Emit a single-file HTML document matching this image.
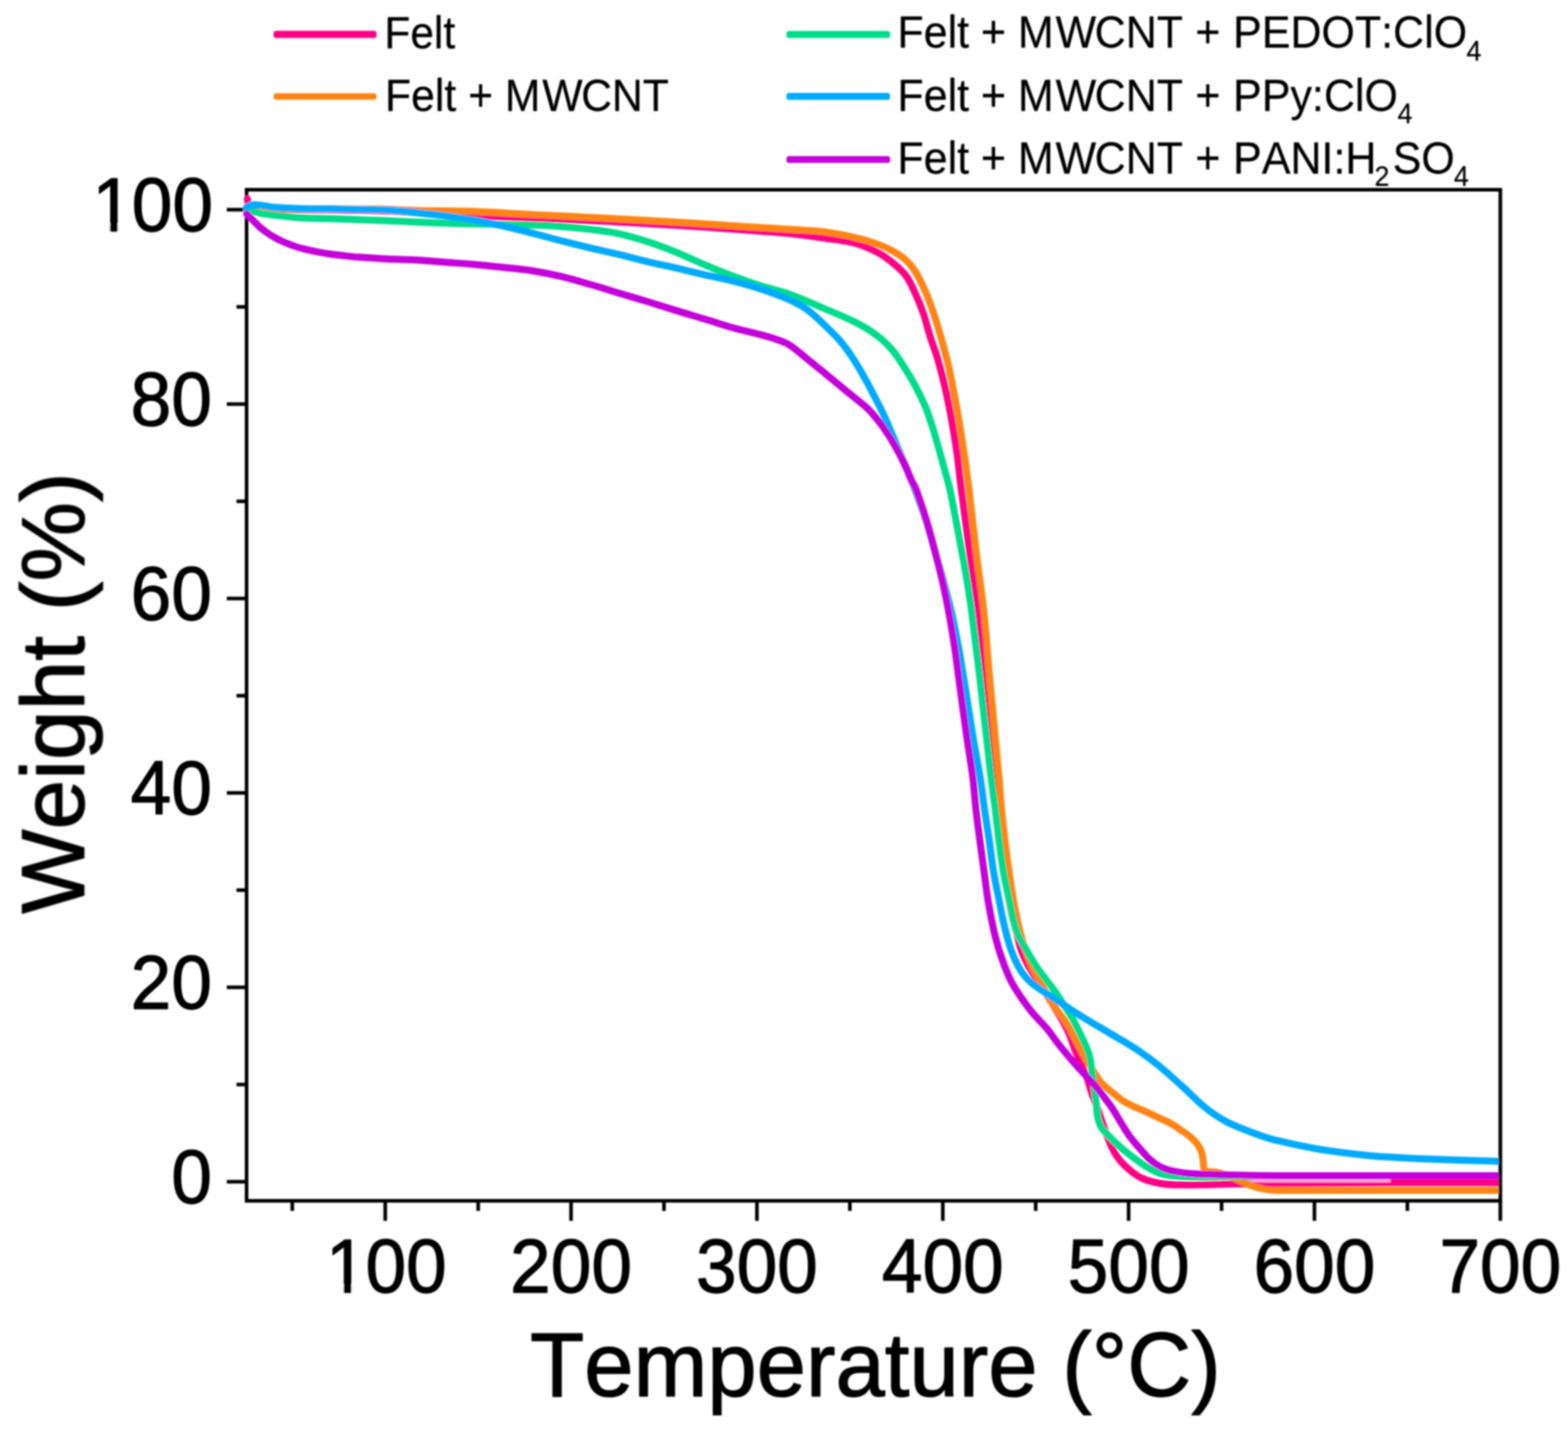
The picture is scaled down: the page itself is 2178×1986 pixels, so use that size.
<!DOCTYPE html>
<html lang="en"><head><meta charset="utf-8"><title>TGA: Weight (%) vs Temperature (°C)</title>
<style>html,body{margin:0;padding:0;background:#fff}body{width:2178px;height:1986px;overflow:hidden}svg{display:block}text{font-family:"Liberation Sans",Arial,sans-serif;font-kerning:none}</style>
</head><body>
<svg xmlns="http://www.w3.org/2000/svg" width="2178" height="1986" viewBox="0 0 2178 1986">
<defs><clipPath id="plotclip"><rect x="336.5" y="263.5" width="1745.1" height="1404.2"/></clipPath></defs>
<rect width="2178" height="1986" fill="#fff"/>
<filter id="soft" x="0" y="0" width="2178" height="1986" filterUnits="userSpaceOnUse"><feGaussianBlur stdDeviation="0.8"/></filter>
<g filter="url(#soft)">
<g stroke="#000" stroke-width="5" fill="none" stroke-linecap="butt">
<rect x="342.5" y="263.5" width="1741.5" height="1404.2"/>
<line x1="406.0" y1="1667.7" x2="406.0" y2="1681.7"/>
<line x1="535.1" y1="1667.7" x2="535.1" y2="1695.5"/>
<line x1="664.2" y1="1667.7" x2="664.2" y2="1681.7"/>
<line x1="793.2" y1="1667.7" x2="793.2" y2="1695.5"/>
<line x1="922.3" y1="1667.7" x2="922.3" y2="1681.7"/>
<line x1="1051.4" y1="1667.7" x2="1051.4" y2="1695.5"/>
<line x1="1180.5" y1="1667.7" x2="1180.5" y2="1681.7"/>
<line x1="1309.6" y1="1667.7" x2="1309.6" y2="1695.5"/>
<line x1="1438.6" y1="1667.7" x2="1438.6" y2="1681.7"/>
<line x1="1567.7" y1="1667.7" x2="1567.7" y2="1695.5"/>
<line x1="1696.8" y1="1667.7" x2="1696.8" y2="1681.7"/>
<line x1="1825.8" y1="1667.7" x2="1825.8" y2="1695.5"/>
<line x1="1954.9" y1="1667.7" x2="1954.9" y2="1681.7"/>
<line x1="2084.0" y1="1667.7" x2="2084.0" y2="1695.5"/>
<line x1="342.5" y1="1641.2" x2="315.0" y2="1641.2"/>
<line x1="342.5" y1="1506.2" x2="328.5" y2="1506.2"/>
<line x1="342.5" y1="1371.2" x2="315.0" y2="1371.2"/>
<line x1="342.5" y1="1236.2" x2="328.5" y2="1236.2"/>
<line x1="342.5" y1="1101.2" x2="315.0" y2="1101.2"/>
<line x1="342.5" y1="966.2" x2="328.5" y2="966.2"/>
<line x1="342.5" y1="831.2" x2="315.0" y2="831.2"/>
<line x1="342.5" y1="696.2" x2="328.5" y2="696.2"/>
<line x1="342.5" y1="561.2" x2="315.0" y2="561.2"/>
<line x1="342.5" y1="426.2" x2="328.5" y2="426.2"/>
<line x1="342.5" y1="291.2" x2="315.0" y2="291.2"/>
</g>
<g fill="none" stroke-width="9.7" stroke-linejoin="round" stroke-linecap="round" clip-path="url(#plotclip)">
<path d="M343.5,276.0C344.0,278.3 343.9,280.9 345.0,283.0C346.1,285.1 347.7,287.5 350.0,288.0C359.7,290.1 369.8,290.2 379.7,290.5C406.1,291.3 432.6,291.2 459.0,291.5C472.2,291.7 485.5,291.7 498.7,292.0C511.8,292.2 524.9,292.5 538.0,293.0C551.3,293.5 564.7,294.3 578.0,295.0C591.3,295.8 604.7,296.7 618.0,297.5C631.2,298.2 644.3,298.9 657.5,299.5C670.7,300.1 683.8,300.7 697.0,301.2C711.3,301.8 725.7,302.3 740.0,302.9C773.1,304.3 806.1,305.6 839.2,307.2C872.3,308.9 905.3,310.7 938.4,312.8C971.5,314.9 1004.5,317.3 1037.6,319.7C1058.4,321.2 1079.2,322.5 1100.0,324.6C1114.6,326.1 1129.0,328.3 1143.5,330.5C1158.0,332.7 1172.8,333.8 1187.0,337.6C1198.4,340.6 1209.3,345.5 1219.7,351.0C1227.5,355.1 1234.7,360.5 1241.5,366.2C1247.8,371.4 1254.1,376.9 1258.9,383.6C1264.4,391.3 1268.0,400.2 1271.9,408.8C1276.0,417.7 1279.6,426.7 1282.8,436.0C1286.3,446.2 1288.6,456.9 1291.9,467.2C1295.1,477.4 1299.1,487.3 1302.1,497.6C1305.9,510.6 1309.3,523.6 1312.4,536.8C1315.7,551.2 1318.6,565.7 1321.3,580.3C1324.2,596.2 1326.8,612.2 1329.1,628.2C1331.5,645.4 1333.1,662.7 1335.3,680.0C1339.0,709.0 1342.8,738.0 1346.8,767.0C1350.9,796.1 1356.2,825.0 1359.6,854.1C1363.0,883.0 1364.8,912.2 1367.3,941.2C1369.9,970.2 1372.0,999.2 1374.8,1028.2C1376.4,1045.5 1378.4,1062.8 1380.5,1080.0C1384.0,1109.0 1387.9,1138.0 1391.5,1167.0C1395.1,1196.0 1397.6,1225.2 1402.3,1254.1C1404.7,1268.8 1409.2,1283.1 1412.8,1297.6C1414.6,1304.9 1416.0,1312.3 1418.5,1319.4C1421.2,1326.9 1424.5,1334.2 1428.3,1341.2C1432.4,1348.8 1437.4,1355.7 1442.0,1363.0C1446.9,1370.7 1451.9,1378.3 1456.7,1386.0C1462.8,1395.9 1469.0,1405.8 1474.8,1415.9C1478.6,1422.6 1482.3,1429.4 1485.4,1436.5C1488.3,1443.2 1490.1,1450.3 1492.8,1457.1C1495.8,1464.6 1499.2,1471.9 1502.4,1479.4C1505.1,1485.7 1508.0,1491.9 1510.3,1498.4C1512.7,1505.2 1514.3,1512.2 1516.7,1519.0C1519.1,1526.0 1522.1,1532.8 1524.6,1539.7C1526.9,1546.0 1528.8,1552.4 1531.0,1558.7C1533.0,1564.6 1535.1,1570.4 1537.3,1576.2C1539.3,1581.5 1541.2,1586.9 1543.7,1592.1C1546.0,1597.0 1548.5,1601.8 1551.6,1606.3C1554.4,1610.3 1557.6,1614.0 1561.1,1617.5C1565.1,1621.5 1569.3,1625.2 1573.8,1628.6C1577.8,1631.6 1582.0,1634.4 1586.5,1636.5C1591.0,1638.6 1595.9,1640.0 1600.8,1641.3C1606.0,1642.7 1611.3,1643.8 1616.7,1644.4C1624.6,1645.3 1632.6,1645.6 1640.5,1645.7C1651.1,1645.9 1661.6,1645.6 1672.2,1645.4C1684.8,1645.1 1697.4,1644.5 1710.0,1644.3C1740.0,1643.8 1770.0,1643.5 1800.0,1643.3C1844.0,1643.0 1888.0,1642.8 1932.0,1642.7C1982.7,1642.6 2033.3,1642.6 2084.0,1642.6" stroke="#FF0084"/>
<path id="lightstrip" d="M1727,1639.6H1931.5" stroke="#F4A2DC" stroke-width="4.6" stroke-linecap="butt"/>
<path d="M342.5,291.5C361.7,291.2 380.8,290.7 400.0,290.5C419.7,290.2 439.3,290.0 459.0,290.0C480.8,290.0 502.7,290.0 524.5,290.4C542.3,290.7 560.2,291.9 578.0,292.3C604.5,293.0 631.0,292.8 657.5,293.7C685.0,294.7 712.5,296.6 740.0,298.0C773.1,299.7 806.1,301.2 839.2,302.9C872.3,304.6 905.3,306.4 938.4,308.4C971.5,310.4 1004.5,312.7 1037.6,314.8C1058.4,316.1 1079.2,317.3 1100.0,318.7C1114.5,319.7 1129.1,320.0 1143.5,321.8C1158.1,323.6 1172.6,326.4 1187.0,329.7C1198.1,332.2 1209.0,335.3 1219.7,339.2C1227.3,342.0 1234.5,345.5 1241.5,349.5C1247.6,353.0 1253.7,356.8 1258.9,361.7C1264.0,366.4 1268.3,372.0 1271.9,377.9C1277.0,386.2 1281.1,395.1 1285.0,404.0C1289.1,413.2 1292.6,422.7 1295.9,432.3C1299.9,443.8 1303.4,455.5 1306.7,467.2C1310.6,480.9 1314.4,494.6 1317.6,508.5C1320.9,522.9 1323.6,537.5 1326.3,552.0C1329.0,566.5 1331.5,581.0 1333.9,595.6C1336.3,610.1 1338.4,624.6 1340.5,639.1C1342.5,652.7 1344.3,666.3 1346.0,680.0C1349.5,709.0 1352.5,738.0 1356.0,767.0C1359.5,796.1 1364.0,825.0 1367.1,854.1C1370.1,883.1 1371.9,912.2 1374.6,941.2C1377.2,970.2 1380.0,999.2 1382.8,1028.2C1384.4,1045.5 1386.1,1062.7 1387.6,1080.0C1388.9,1094.5 1389.7,1109.0 1391.1,1123.5C1392.5,1138.0 1394.0,1152.5 1395.8,1167.0C1397.5,1181.6 1399.4,1196.1 1401.6,1210.6C1403.7,1225.1 1405.7,1239.7 1408.4,1254.1C1411.2,1268.7 1413.9,1283.3 1417.8,1297.6C1421.9,1312.4 1426.6,1327.0 1432.5,1341.2C1435.6,1348.9 1440.6,1355.6 1444.6,1362.9C1448.6,1370.1 1452.3,1377.6 1456.4,1384.7C1459.5,1389.9 1462.8,1395.0 1466.2,1400.0C1471.3,1407.5 1477.1,1414.5 1481.9,1422.2C1486.4,1429.3 1490.0,1437.0 1494.0,1444.4C1497.9,1451.8 1501.4,1459.4 1505.5,1466.7C1509.0,1472.7 1513.0,1478.3 1516.7,1484.1C1520.9,1490.6 1524.4,1497.7 1529.4,1503.5C1533.9,1508.8 1539.8,1512.8 1545.2,1517.2C1550.4,1521.5 1555.4,1526.1 1561.1,1529.7C1566.1,1532.9 1571.6,1535.2 1577.0,1537.7C1582.2,1540.1 1587.7,1542.1 1592.9,1544.5C1598.2,1546.8 1603.4,1549.5 1608.7,1552.0C1614.0,1554.4 1619.5,1556.4 1624.6,1559.3C1630.1,1562.3 1635.3,1566.1 1640.5,1569.7C1644.8,1572.6 1649.2,1575.3 1653.2,1578.7C1656.7,1581.6 1660.0,1584.7 1662.7,1588.3C1665.3,1591.9 1667.5,1595.8 1669.0,1600.0C1670.4,1604.1 1670.8,1608.4 1671.4,1612.7C1671.9,1615.8 1671.2,1619.2 1672.2,1622.2C1672.8,1624.0 1674.2,1625.9 1676.0,1626.5C1681.5,1628.2 1687.5,1627.2 1693.1,1628.6C1700.3,1630.4 1707.2,1633.2 1714.0,1636.0C1719.4,1638.2 1724.4,1641.3 1729.8,1643.5C1735.0,1645.7 1740.3,1647.7 1745.7,1649.2C1750.9,1650.7 1756.2,1651.9 1761.6,1652.5C1767.7,1653.2 1773.9,1653.1 1780.0,1653.1C1881.3,1653.3 1982.7,1653.1 2084.0,1653.1" stroke="#FF8419"/>
<path d="M342.5,291.0C348.3,292.6 354.1,294.5 360.0,295.7C366.5,297.0 373.1,297.9 379.7,298.7C392.9,300.3 406.1,301.9 419.4,302.7C432.6,303.5 445.8,303.3 459.0,303.7C472.2,304.1 485.5,304.7 498.7,305.2C511.9,305.7 525.2,306.1 538.4,306.6C551.6,307.1 564.9,307.8 578.1,308.4C591.3,309.0 604.6,309.6 617.8,310.0C631.0,310.4 644.3,310.7 657.5,311.0C670.7,311.3 683.9,311.5 697.1,311.8C711.4,312.1 725.7,312.1 740.0,312.6C753.2,313.0 766.5,313.6 779.7,314.6C793.0,315.6 806.2,316.9 819.4,318.5C832.6,320.1 845.9,321.7 859.0,324.4C872.4,327.3 885.6,331.1 898.7,335.3C912.1,339.6 925.3,344.6 938.4,349.9C951.8,355.3 964.8,361.7 978.1,367.4C991.3,372.9 1004.4,378.4 1017.8,383.4C1030.9,388.4 1044.2,393.0 1057.5,397.2C1070.6,401.4 1084.2,404.0 1097.1,408.7C1112.9,414.3 1128.1,421.3 1143.5,427.9C1157.8,434.0 1172.3,439.6 1186.2,446.6C1196.8,451.9 1207.2,457.7 1216.7,464.8C1224.8,470.7 1232.2,477.7 1238.7,485.2C1245.5,493.0 1250.9,501.9 1256.4,510.6C1262.3,519.9 1268.0,529.3 1273.0,539.0C1278.2,548.9 1283.1,559.0 1287.2,569.4C1291.4,580.1 1294.6,591.1 1298.0,602.1C1301.1,612.2 1303.9,622.4 1306.7,632.6C1309.3,642.0 1311.9,651.4 1314.4,660.8C1316.1,667.2 1318.1,673.5 1319.5,680.0C1322.6,694.4 1325.2,709.0 1328.0,723.5C1330.8,738.0 1333.6,752.5 1336.2,767.0C1338.9,781.5 1341.6,796.0 1343.9,810.6C1346.3,825.1 1348.3,839.6 1350.2,854.1C1352.1,868.6 1353.8,883.1 1355.6,897.6C1357.4,912.1 1359.3,926.7 1361.0,941.2C1362.7,955.7 1364.2,970.2 1365.8,984.7C1367.4,999.2 1369.1,1013.7 1370.8,1028.2C1372.8,1045.5 1374.6,1062.7 1376.7,1080.0C1378.5,1094.5 1380.6,1109.0 1382.4,1123.5C1384.2,1138.0 1385.8,1152.5 1387.7,1167.0C1389.6,1181.6 1391.3,1196.1 1393.8,1210.6C1396.3,1225.2 1399.8,1239.5 1402.8,1254.0C1404.6,1262.6 1405.9,1271.3 1408.1,1279.8C1409.8,1286.6 1412.0,1293.3 1414.7,1299.7C1417.0,1305.0 1420.2,1309.9 1423.1,1315.0C1425.8,1319.8 1428.6,1324.7 1431.5,1329.4C1434.5,1334.4 1437.5,1339.5 1440.9,1344.3C1444.4,1349.4 1448.3,1354.3 1452.0,1359.2C1455.8,1364.2 1459.8,1369.0 1463.5,1374.1C1467.0,1379.0 1470.2,1384.0 1473.5,1389.0C1476.7,1394.0 1479.8,1399.0 1483.0,1404.0C1486.0,1408.9 1489.3,1413.6 1492.0,1418.7C1497.0,1428.2 1501.6,1437.8 1506.0,1447.6C1508.8,1453.8 1511.6,1460.1 1513.3,1466.7C1515.1,1473.4 1515.7,1480.4 1516.7,1487.3C1517.9,1495.2 1518.8,1503.2 1519.8,1511.1C1520.9,1519.0 1522.0,1527.0 1523.0,1534.9C1523.6,1540.2 1523.5,1545.6 1524.6,1550.8C1525.6,1555.7 1526.9,1560.7 1529.4,1565.1C1531.8,1569.3 1535.6,1572.6 1538.9,1576.2C1543.0,1580.6 1547.2,1584.8 1551.6,1588.9C1555.7,1592.7 1559.9,1596.5 1564.3,1600.0C1568.4,1603.3 1572.7,1606.4 1577.0,1609.5C1582.2,1613.3 1587.4,1617.3 1592.9,1620.6C1598.0,1623.6 1603.2,1626.5 1608.7,1628.6C1613.8,1630.5 1619.2,1631.6 1624.6,1632.5C1629.8,1633.4 1635.2,1633.7 1640.5,1634.0C1651.1,1634.5 1661.6,1634.7 1672.2,1634.8C1682.8,1634.8 1693.4,1634.5 1704.0,1634.2C1712.0,1634.1 1720.0,1633.8 1728.0,1633.6C1731.3,1633.5 1734.7,1633.5 1738.0,1633.4" stroke="#00DC8C"/>
<path d="M342.5,288.0C345.0,286.9 347.3,285.0 350.0,284.6C354.0,284.0 358.0,284.6 362.0,285.0C367.9,285.6 373.7,287.3 379.7,287.8C392.9,288.9 406.2,289.4 419.4,289.8C432.6,290.2 445.8,290.0 459.0,290.2C472.2,290.4 485.5,290.6 498.7,290.8C511.9,291.1 525.2,291.0 538.4,291.7C551.7,292.5 564.9,294.0 578.1,295.3C591.3,296.6 604.6,298.0 617.8,299.7C631.1,301.4 644.3,303.3 657.5,305.6C670.8,307.9 684.0,310.7 697.1,313.6C711.5,316.8 725.7,320.4 740.0,324.0C753.3,327.3 766.4,331.0 779.7,334.4C792.9,337.8 806.1,341.1 819.4,344.3C832.6,347.4 845.8,350.2 859.0,353.3C872.3,356.5 885.4,360.1 898.7,363.2C911.9,366.3 925.2,369.1 938.4,372.1C951.7,375.2 964.8,378.5 978.1,381.5C991.3,384.5 1004.7,387.0 1017.8,390.3C1031.1,393.6 1044.4,397.2 1057.5,401.6C1070.9,406.0 1084.2,410.8 1097.1,416.6C1105.7,420.5 1114.1,425.0 1121.8,430.5C1129.7,436.1 1136.5,443.1 1143.5,449.7C1151.0,456.8 1158.5,463.8 1165.3,471.5C1171.6,478.7 1177.3,486.5 1182.7,494.4C1188.2,502.5 1193.1,510.9 1197.9,519.4C1203.2,528.7 1208.3,538.2 1213.2,547.7C1218.4,557.8 1223.6,567.8 1228.4,578.1C1232.7,587.4 1236.6,596.9 1240.6,606.4C1244.0,614.4 1247.3,622.4 1250.6,630.4C1254.9,640.5 1259.2,650.6 1263.4,660.8C1266.0,667.2 1268.6,673.5 1271.0,680.0C1276.3,694.4 1281.8,708.8 1286.6,723.5C1291.2,737.9 1295.1,752.5 1299.2,767.0C1303.3,781.5 1307.5,796.0 1311.4,810.6C1315.3,825.1 1319.2,839.5 1322.5,854.1C1325.8,868.5 1328.5,883.1 1331.2,897.6C1333.9,912.1 1336.2,926.7 1338.6,941.2C1341.0,955.7 1343.1,970.2 1345.4,984.7C1347.7,999.2 1349.9,1013.7 1352.3,1028.2C1355.2,1045.5 1358.7,1062.7 1361.5,1080.0C1363.8,1094.5 1365.4,1109.0 1367.5,1123.5C1369.6,1138.0 1371.9,1152.5 1374.0,1167.0C1376.1,1181.5 1377.7,1196.1 1380.1,1210.6C1382.5,1225.2 1385.7,1239.6 1388.5,1254.1C1390.2,1262.7 1391.7,1271.3 1393.6,1279.8C1395.1,1286.5 1396.7,1293.1 1398.5,1299.7C1400.3,1306.4 1402.2,1313.0 1404.5,1319.5C1406.8,1325.9 1409.3,1332.2 1412.4,1338.3C1415.3,1343.9 1418.4,1349.3 1422.3,1354.3C1425.8,1358.8 1429.9,1362.7 1434.2,1366.3C1438.8,1370.2 1444.1,1373.4 1449.1,1376.8C1454.0,1380.1 1459.0,1383.2 1464.0,1386.5C1469.0,1389.7 1473.9,1393.0 1478.9,1396.3C1485.5,1400.7 1492.0,1405.2 1498.7,1409.4C1505.2,1413.5 1512.0,1417.3 1518.6,1421.3C1525.7,1425.5 1532.9,1429.7 1540.0,1434.0C1552.3,1441.4 1565.0,1448.3 1577.0,1456.2C1587.9,1463.4 1598.5,1471.0 1608.7,1479.2C1619.7,1488.0 1630.0,1497.7 1640.5,1507.2C1651.2,1516.9 1661.3,1527.2 1672.2,1536.7C1677.2,1541.0 1682.6,1544.9 1688.1,1548.6C1693.2,1552.0 1698.5,1555.2 1704.0,1558.1C1709.1,1560.8 1714.5,1563.0 1719.8,1565.2C1725.1,1567.4 1730.4,1569.5 1735.7,1571.5C1741.0,1573.5 1746.2,1575.6 1751.6,1577.4C1757.7,1579.4 1763.7,1581.6 1770.0,1583.0C1791.7,1588.0 1813.5,1592.9 1835.5,1596.6C1857.2,1600.2 1879.1,1602.7 1901.0,1604.8C1922.7,1606.8 1944.6,1607.8 1966.4,1608.9C1988.2,1610.0 2010.1,1610.5 2031.9,1611.3C2049.3,1611.9 2066.6,1612.4 2084.0,1613.0" stroke="#00AAFF"/>
<path d="M342.5,297.0C345.0,299.5 347.5,302.0 350.0,304.5C353.3,307.8 356.3,311.4 359.8,314.5C362.9,317.3 366.4,319.8 369.8,322.3C373.0,324.6 376.3,326.8 379.7,328.8C382.9,330.7 386.2,332.4 389.6,334.0C392.8,335.6 396.2,337.0 399.5,338.3C402.8,339.6 406.1,340.9 409.4,342.0C412.7,343.1 416.0,344.2 419.4,345.0C426.0,346.7 432.6,348.2 439.2,349.5C445.8,350.8 452.4,351.9 459.0,352.9C465.6,353.8 472.3,354.5 478.9,355.2C485.5,355.9 492.1,356.7 498.7,357.2C511.9,358.2 525.2,358.9 538.4,359.6C551.6,360.3 564.9,360.4 578.1,361.2C591.3,362.0 604.6,363.2 617.8,364.2C631.0,365.2 644.3,365.9 657.5,367.1C670.7,368.3 683.9,369.7 697.1,371.1C711.4,372.7 725.8,373.9 740.0,376.1C753.3,378.2 766.6,380.9 779.7,384.0C793.1,387.2 806.2,391.1 819.4,394.9C832.6,398.7 845.8,402.8 859.0,406.8C872.2,410.8 885.5,414.7 898.7,418.7C912.0,422.7 925.1,427.0 938.4,431.0C951.6,435.1 964.9,438.9 978.1,442.9C991.4,446.9 1004.5,451.4 1017.8,455.1C1031.8,459.0 1046.0,462.0 1060.0,465.8C1066.7,467.6 1073.4,469.6 1080.0,471.8C1084.1,473.2 1088.2,474.6 1092.0,476.5C1095.2,478.1 1098.2,480.1 1101.0,482.2C1108.1,487.5 1114.9,493.3 1121.8,498.9C1129.1,504.8 1136.3,510.7 1143.5,516.6C1150.8,522.6 1158.0,528.5 1165.3,534.5C1172.5,540.4 1179.8,546.4 1187.0,552.3C1192.3,556.7 1197.8,560.8 1203.0,565.4C1205.8,567.9 1208.5,570.6 1211.0,573.5C1216.3,579.7 1221.5,585.9 1226.2,592.5C1231.9,600.5 1237.2,608.8 1242.1,617.3C1247.1,625.8 1251.7,634.5 1255.9,643.4C1259.7,651.2 1262.6,659.5 1266.2,667.4C1268.2,671.7 1270.9,675.6 1272.5,680.0C1277.8,694.3 1282.5,708.9 1287.0,723.5C1291.4,737.9 1295.2,752.5 1299.0,767.0C1302.8,781.5 1306.6,796.0 1309.9,810.6C1313.1,825.0 1315.9,839.6 1318.6,854.1C1321.2,868.6 1323.6,883.1 1325.8,897.6C1328.0,912.1 1329.7,926.7 1331.7,941.2C1333.6,955.7 1335.5,970.2 1337.5,984.7C1339.5,999.2 1341.5,1013.7 1343.6,1028.2C1346.1,1045.5 1349.1,1062.7 1351.3,1080.0C1353.1,1094.5 1353.9,1109.0 1355.5,1123.5C1357.1,1138.0 1359.1,1152.5 1361.0,1167.0C1362.9,1181.5 1364.9,1196.1 1366.9,1210.6C1368.9,1225.1 1370.5,1239.7 1373.0,1254.1C1375.5,1268.7 1378.3,1283.2 1381.7,1297.6C1384.4,1308.6 1387.5,1319.6 1391.3,1330.3C1395.1,1341.4 1399.3,1352.4 1404.5,1362.9C1408.3,1370.6 1413.2,1377.6 1418.0,1384.7C1423.1,1392.1 1428.3,1399.5 1434.0,1406.4C1440.2,1414.0 1447.6,1420.6 1453.9,1428.2C1459.9,1435.5 1465.0,1443.4 1470.9,1450.8C1475.9,1457.3 1481.3,1463.6 1486.6,1469.8C1491.7,1475.7 1496.8,1481.6 1502.1,1487.3C1507.0,1492.7 1512.3,1497.7 1517.1,1503.2C1522.5,1509.3 1527.5,1515.8 1532.4,1522.2C1536.9,1527.9 1541.3,1533.7 1545.3,1539.7C1549.4,1545.8 1552.8,1552.4 1556.7,1558.7C1560.7,1565.1 1564.5,1571.7 1568.9,1577.8C1573.2,1583.6 1578.0,1589.0 1582.7,1594.4C1586.5,1598.9 1590.2,1603.4 1594.4,1607.6C1597.8,1610.8 1601.3,1613.9 1605.2,1616.5C1609.0,1619.1 1613.2,1621.2 1617.5,1622.9C1622.3,1624.8 1627.4,1626.0 1632.5,1627.0C1640.4,1628.5 1648.3,1629.6 1656.3,1630.2C1666.9,1631.0 1677.5,1631.2 1688.1,1631.4C1715.4,1632.0 1742.7,1632.7 1770.0,1632.8C1874.7,1633.2 1979.3,1632.8 2084.0,1632.8" stroke="#C400DA"/>
</g>
<g font-family="'Liberation Sans', Arial, sans-serif" fill="#000">
<text transform="translate(535.1,1794.6) scale(0.975,1.01)" font-size="104" text-anchor="middle" stroke="#000" stroke-width="1.5" stroke-linejoin="round"><tspan dx="1.54">1</tspan><tspan dx="-1.54">00</tspan></text><rect x="458.9" y="1784.6" width="18.5" height="11.6" fill="#fff"/><rect x="488.2" y="1784.6" width="17.7" height="11.6" fill="#fff"/>
<text transform="translate(793.2,1794.6) scale(0.975,1.01)" font-size="104" text-anchor="middle" stroke="#000" stroke-width="1.5" stroke-linejoin="round">200</text>
<text transform="translate(1051.4,1794.6) scale(0.975,1.01)" font-size="104" text-anchor="middle" stroke="#000" stroke-width="1.5" stroke-linejoin="round">300</text>
<text transform="translate(1309.6,1794.6) scale(0.975,1.01)" font-size="104" text-anchor="middle" stroke="#000" stroke-width="1.5" stroke-linejoin="round">400</text>
<text transform="translate(1567.7,1794.6) scale(0.975,1.01)" font-size="104" text-anchor="middle" stroke="#000" stroke-width="1.5" stroke-linejoin="round">500</text>
<text transform="translate(1825.8,1794.6) scale(0.975,1.01)" font-size="104" text-anchor="middle" stroke="#000" stroke-width="1.5" stroke-linejoin="round">600</text>
<text transform="translate(2084.0,1794.6) scale(0.975,1.01)" font-size="104" text-anchor="middle" stroke="#000" stroke-width="1.5" stroke-linejoin="round">700</text>
<text transform="translate(294.3,1671.0) scale(0.975,1.01)" font-size="104" text-anchor="end" stroke="#000" stroke-width="1.5" stroke-linejoin="round">0</text>
<text transform="translate(294.3,1401.0) scale(0.975,1.01)" font-size="104" text-anchor="end" stroke="#000" stroke-width="1.5" stroke-linejoin="round">20</text>
<text transform="translate(294.3,1131.0) scale(0.975,1.01)" font-size="104" text-anchor="end" stroke="#000" stroke-width="1.5" stroke-linejoin="round">40</text>
<text transform="translate(294.3,861.0) scale(0.975,1.01)" font-size="104" text-anchor="end" stroke="#000" stroke-width="1.5" stroke-linejoin="round">60</text>
<text transform="translate(294.3,591.0) scale(0.975,1.01)" font-size="104" text-anchor="end" stroke="#000" stroke-width="1.5" stroke-linejoin="round">80</text>
<text transform="translate(294.3,321.0) scale(0.975,1.01)" font-size="104" text-anchor="end" stroke="#000" stroke-width="1.5" stroke-linejoin="round"><tspan dx="1.54">1</tspan><tspan dx="-1.54">00</tspan></text><rect x="134.2" y="311.0" width="18.5" height="11.6" fill="#fff"/><rect x="163.5" y="311.0" width="17.7" height="11.6" fill="#fff"/>
<text transform="translate(1216.0,1939.5) scale(0.9934,1.011)" font-size="124" text-anchor="middle" stroke="#000" stroke-width="1.6" stroke-linejoin="round">Temperature (°C)</text>
<text transform="translate(116.5,962.5) rotate(-90)" font-size="124" text-anchor="middle" stroke="#000" stroke-width="1.6" stroke-linejoin="round">Weight (%)</text>
<rect x="380" y="42.8" width="143" height="10" rx="3.5" fill="#FF0084"/><rect x="380" y="129.4" width="143" height="9.2" rx="3.5" fill="#FF8419"/><text transform="translate(0,66.6) scale(0.966,1.045)" font-size="61" stroke="#000" stroke-width="0.3" stroke-linejoin="round"><tspan x="552.9">Felt</tspan></text><text transform="translate(0,154.2) scale(0.9725,1.045)" font-size="61" stroke="#000" stroke-width="0.3" stroke-linejoin="round"><tspan x="550.0">Felt + M</tspan><tspan dx="2.67">W</tspan><tspan dx="-2.26">CNT</tspan></text><rect x="1092.4" y="43.1" width="143.89999999999986" height="9.6" rx="3.5" fill="#00DC8C"/><text transform="translate(0,66.2) scale(0.979,1.045)" font-size="61" stroke="#000" stroke-width="0.3" stroke-linejoin="round"><tspan x="1273.2">Felt + M</tspan><tspan dx="2.66">W</tspan><tspan dx="-2.25">CNT </tspan><tspan x="1695.9">+ </tspan><tspan x="1749.6">PEDOT:ClO</tspan><tspan x="2080.6" dy="16.7" font-size="38">4</tspan></text><rect x="1092.4" y="129.1" width="143.89999999999986" height="9.6" rx="3.5" fill="#00AAFF"/><text transform="translate(0,153.5) scale(0.979,1.045)" font-size="61" stroke="#000" stroke-width="0.3" stroke-linejoin="round"><tspan x="1273.2">Felt + M</tspan><tspan dx="2.66">W</tspan><tspan dx="-2.25">CNT </tspan><tspan x="1695.9">+ </tspan><tspan x="1749.6">PPy:ClO</tspan><tspan x="1983.0" dy="16.7" font-size="38">4</tspan></text><rect x="1092.4" y="216.7" width="143.89999999999986" height="9.6" rx="3.5" fill="#C400DA"/><text transform="translate(0,240.8) scale(0.979,1.045)" font-size="61" stroke="#000" stroke-width="0.3" stroke-linejoin="round"><tspan x="1273.2">Felt + M</tspan><tspan dx="2.66">W</tspan><tspan dx="-2.25">CNT </tspan><tspan x="1695.9">+ </tspan><tspan x="1749.6">PANI:H</tspan><tspan x="1950.2" dy="16.7" font-size="38">2</tspan><tspan x="1976.0" dy="-16.7">SO</tspan><tspan x="2062.8" dy="16.7" font-size="38">4</tspan></text>
</g>
</g>
</svg>
</body></html>
